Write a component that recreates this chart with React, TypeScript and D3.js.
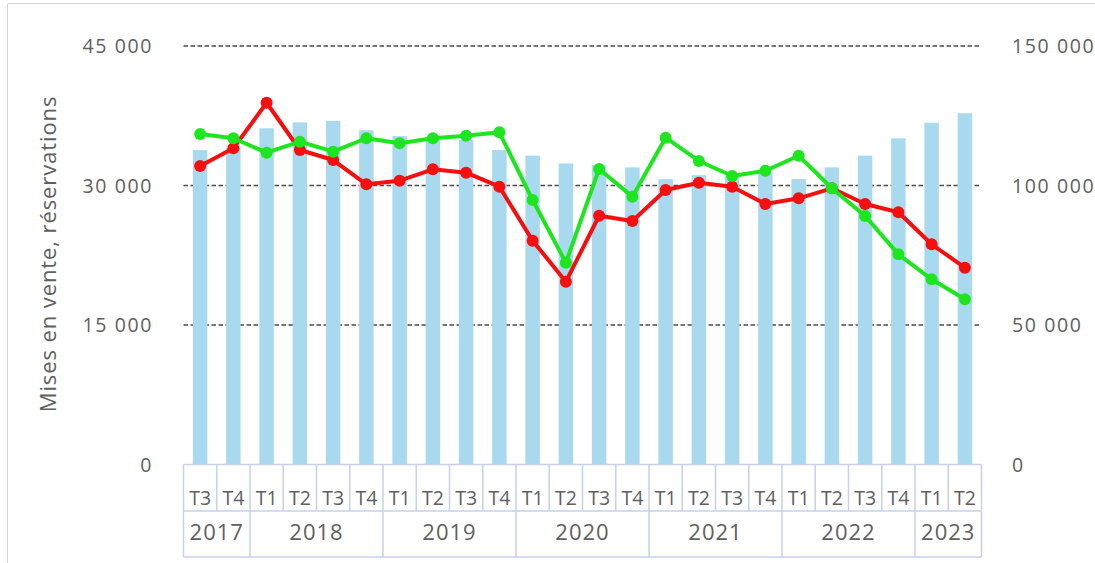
import * as d3 from 'd3';
import React, { useRef, useEffect } from 'react';

const quarters = ['T3', 'T4', 'T1', 'T2', 'T3', 'T4', 'T1', 'T2', 'T3', 'T4', 'T1', 'T2', 'T3', 'T4', 'T1', 'T2', 'T3', 'T4', 'T1', 'T2', 'T3', 'T4', 'T1', 'T2'];
const years = [
    { label: '2017', count: 2 },
    { label: '2018', count: 4 },
    { label: '2019', count: 4 },
    { label: '2020', count: 4 },
    { label: '2021', count: 4 },
    { label: '2022', count: 4 },
    { label: '2023', count: 2 },
];
// stock (right axis)
const barValues = [112700, 113400, 120500, 122600, 123200, 119800, 117700, 116300, 116300, 112700, 110700, 107900, 107300, 106500, 102300, 103700, 103400, 104700, 102300, 106500, 110700, 116900, 122500, 125900];
// reservations (left axis)
const greenValues = [35540, 35080, 33530, 34710, 33640, 35080, 34540, 35080, 35350, 35720, 28440, 21700, 31780, 28800, 35140, 32640, 31020, 31590, 33200, 29700, 26720, 22600, 19910, 17760];
// mises en vente (left axis)
const redValues = [32100, 34000, 38900, 33820, 32740, 30130, 30520, 31740, 31380, 29870, 24070, 19660, 26750, 26180, 29520, 30300, 29870, 28010, 28620, 29700, 28010, 27120, 23680, 21160];
const leftTicks = [0, 15000, 30000, 45000];
const rightTicks = [0, 50000, 100000, 150000];

const W = 1095, H = 563;
const FONT = "'Open Sans', sans-serif";
const TEXT = '#606060';

function Chart() {
    const ref = useRef<SVGSVGElement>(null);

    useEffect(() => {
        const svg = d3.select(ref.current);
        svg.selectAll('*').remove();

        const x = d3.scaleBand<number>()
            .domain(d3.range(quarters.length))
            .range([183.5, 981.5]);
        const yL = d3.scaleLinear().domain([0, 45000]).range([464.5, 46]);
        const yR = d3.scaleLinear().domain([0, 150000]).range([464.5, 46]);
        const cx = (i: number) => x(i)! + x.bandwidth() / 2;
        const fmt = (v: number) => d3.format(',')(v).replace(/,/g, ' ');

        // frame
        svg.append('path')
            .attr('d', `M7.5,${H} V3.5 H${W}`)
            .attr('fill', 'none')
            .attr('stroke', '#d6d6d6');

        // grid
        svg.append('g').selectAll('line')
            .data(leftTicks.filter(d => d > 0))
            .join('line')
            .attr('x1', 183.5).attr('x2', 981.5)
            .attr('y1', d => yL(d)).attr('y2', d => yL(d))
            .attr('stroke', '#4a4a4a')
            .attr('stroke-width', 1.3)
            .attr('stroke-dasharray', '4.5,2.5');

        // left labels
        svg.append('g').selectAll('text')
            .data(leftTicks)
            .join('text')
            .attr('x', 153).attr('y', d => yL(d))
            .attr('dy', '0.36em')
            .attr('text-anchor', 'end')
            .attr('font-family', FONT).attr('font-size', 19.5)
            .attr('letter-spacing', 1.6)
            .attr('fill', TEXT)
            .text(d => fmt(d));

        // right labels
        svg.append('g').selectAll('text')
            .data(rightTicks)
            .join('text')
            .attr('x', 1012).attr('y', d => yR(d))
            .attr('dy', '0.36em')
            .attr('font-family', FONT).attr('font-size', 19.5)
            .attr('letter-spacing', 1.6)
            .attr('fill', TEXT)
            .text(d => fmt(d));

        // axis title
        svg.append('text')
            .attr('transform', 'translate(56,254) rotate(-90)')
            .attr('text-anchor', 'middle')
            .attr('font-family', FONT).attr('font-size', 22)
            .attr('letter-spacing', 0.9)
            .attr('fill', TEXT)
            .text('Mises en vente, réservations');

        // bars
        const bw = 14.5;
        svg.append('g').selectAll('rect')
            .data(barValues)
            .join('rect')
            .attr('x', (d, i) => cx(i) - bw / 2)
            .attr('y', d => yR(d))
            .attr('width', bw)
            .attr('height', d => yR(0) - yR(d))
            .attr('fill', '#a9d9ef');

        // lines
        const series = [
            { values: redValues, color: '#f50f0f' },
            { values: greenValues, color: '#1ee61e' },
        ];
        series.forEach(s => {
            const line = d3.line<number>()
                .x((d, i) => cx(i))
                .y(d => yL(d));
            svg.append('path')
                .datum(s.values)
                .attr('d', line)
                .attr('fill', 'none')
                .attr('stroke', s.color)
                .attr('stroke-width', 4)
                .attr('stroke-linejoin', 'round');
            svg.append('g').selectAll('circle')
                .data(s.values)
                .join('circle')
                .attr('cx', (d, i) => cx(i))
                .attr('cy', d => yL(d))
                .attr('r', 6)
                .attr('fill', s.color);
        });

        // category table
        const border = '#c8d0ea';
        const t = svg.append('g');
        const top = 464.5, mid = 511, bottom = 557;
        const edge = (i: number) => i < quarters.length ? x(i)! : x.range()[1];
        t.selectAll('line.h')
            .data([top, mid, bottom])
            .join('line')
            .attr('class', 'h')
            .attr('x1', 183.5).attr('x2', 981.5)
            .attr('y1', d => d).attr('y2', d => d)
            .attr('stroke', border).attr('stroke-width', 1.5);
        t.selectAll('line.q')
            .data(d3.range(quarters.length + 1))
            .join('line')
            .attr('class', 'q')
            .attr('x1', i => edge(i)).attr('x2', i => edge(i))
            .attr('y1', top).attr('y2', mid)
            .attr('stroke', border).attr('stroke-width', 1.5);
        t.selectAll('text.q')
            .data(quarters)
            .join('text')
            .attr('class', 'q')
            .attr('x', (d, i) => cx(i))
            .attr('y', 505)
            .attr('text-anchor', 'middle')
            .attr('font-family', FONT).attr('font-size', 19.5)
            .attr('fill', TEXT)
            .text(d => d);

        let start = 0;
        const yearCells = years.map(y => {
            const cell = { ...y, start };
            start += y.count;
            return cell;
        });
        t.selectAll('line.y')
            .data([...yearCells.map(c => c.start), quarters.length])
            .join('line')
            .attr('class', 'y')
            .attr('x1', i => edge(i)).attr('x2', i => edge(i))
            .attr('y1', mid).attr('y2', bottom)
            .attr('stroke', border).attr('stroke-width', 1.5);
        t.selectAll('text.y')
            .data(yearCells)
            .join('text')
            .attr('class', 'y')
            .attr('x', c => (edge(c.start) + edge(c.start + c.count)) / 2)
            .attr('y', 540)
            .attr('text-anchor', 'middle')
            .attr('font-family', FONT).attr('font-size', 22)
            .attr('letter-spacing', 1)
            .attr('fill', TEXT)
            .text(c => c.label);
    }, []);

    return (
        <svg ref={ref} width={W} height={H}
            style={{ position: 'absolute', left: 0, top: 0, background: '#fff' }} />
    );
}

export default function App() {
    return <Chart />;
}
